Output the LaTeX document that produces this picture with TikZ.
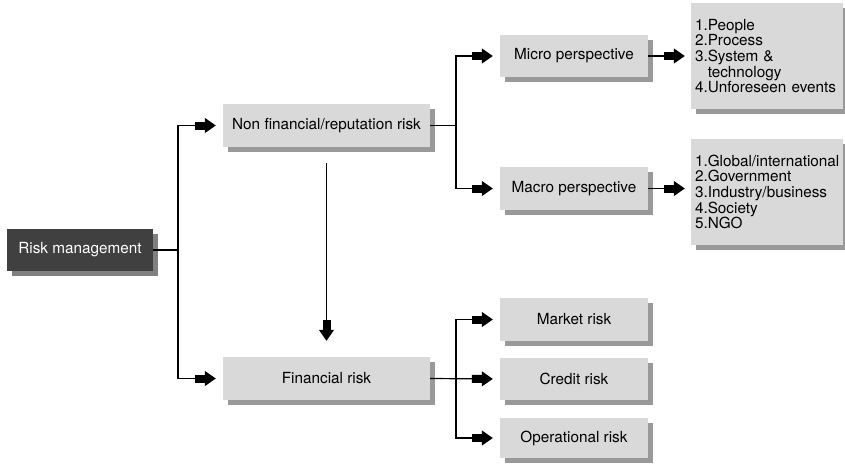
\documentclass[tikz,border=0pt]{standalone}
\usepackage{fontspec}
\setmainfont{TeX Gyre Heros}
\usetikzlibrary{arrows.meta,shadows,calc}
\definecolor{boxgray}{HTML}{D9D9D9}
\definecolor{shgray}{HTML}{999999}
\definecolor{darkbox}{HTML}{404040}
\definecolor{darksh}{HTML}{808080}
\begin{document}
\begin{tikzpicture}[x=1pt,y=-1pt,
  font=\fontsize{15.3}{15.6}\selectfont,
  lbox/.style={fill=boxgray, draw=none, inner sep=0pt, minimum width=148pt, minimum height=42pt,
    drop shadow={shadow xshift=5pt, shadow yshift=-4.5pt, fill=shgray, opacity=1}},
  wbox/.style={lbox, minimum width=207pt, minimum height=43pt},
  listbox/.style={fill=boxgray, draw=none, inner xsep=4pt, inner ysep=0pt, text width=144pt,
    minimum height=106pt, align=left,
    drop shadow={shadow xshift=5pt, shadow yshift=-5pt, fill=shgray, opacity=1}},
  dbox/.style={fill=darkbox, text=white, draw=none, inner sep=0pt, minimum width=146pt, minimum height=42pt,
    drop shadow={shadow xshift=4.5pt, shadow yshift=-4.5pt, fill=darksh, opacity=1}},
  conn/.style={line width=1.2pt, black},
  arr/.style={conn, -{Rectangle[length=10pt,width=8pt,sep=0pt]Triangle[length=11pt,width=15pt,sep=0pt]}, shorten >=7pt}
]
\useasboundingbox (0,0) rectangle (845,464);

\node[dbox] (rm) at (80,250) {Risk management};
\node[wbox] (nf) at (326.5,125.5) {Non financial/reputation risk};
\node[wbox] (fr) at (326.5,378.5) {Financial risk};
\node[lbox] (micro) at (574,56) {Micro perspective};
\node[lbox, minimum height=43pt] (macro) at (574,188.5) {Macro perspective};
\node[lbox, minimum height=43pt] (market) at (574,319.5) {Market risk};
\node[lbox] (credit) at (574,379) {Credit risk};
\node[lbox, minimum height=40pt] (oper) at (574,438) {Operational risk};
\node[listbox] (microlist) at (767,56) {1.People\\2.Process\\3.System \&\\\phantom{3.}technology\\4.Unforeseen events};
\node[listbox] (macrolist) at (767,192) {1.Global/international\\2.Government\\3.Industry/business\\4.Society\\5.NGO};

\coordinate (j1) at (178,250);
\coordinate (j2) at (456,125.5);
\coordinate (j3) at (456,378.5);

\draw[conn] (rm.east) -- (j1);
\draw[arr] (j1) |- (nf.west);
\draw[arr] (j1) |- (fr.west);

\draw[conn] (nf.east) -- (j2);
\draw[arr] (j2) |- (micro.west);
\draw[arr] (j2) |- (macro.west);

\draw[arr, shorten >=6pt] (micro.east) -- (microlist.west |- micro.east);
\draw[arr, shorten >=6pt] (macro.east) -- (macro.east -| macrolist.west);

\draw[arr, shorten <=16pt, shorten >=16pt] (nf.south) -- (fr.north);

\draw[arr] (fr.east) -- (credit.west);
\draw[arr] (j3) |- (market.west);
\draw[arr] (j3) |- (oper.west);
\end{tikzpicture}
\end{document}
